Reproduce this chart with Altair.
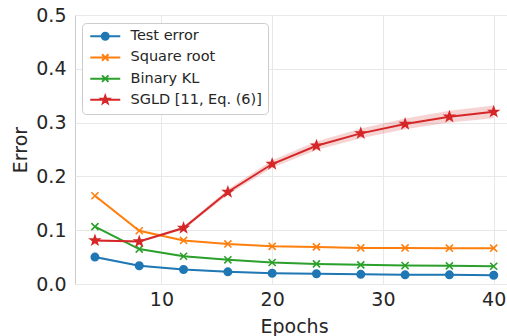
import math
import altair as alt
import pandas as pd

# ---------------- data ----------------
epochs = [4, 8, 12, 16, 20, 24, 28, 32, 36, 40]
series_names = ["Test error", "Square root", "Binary KL", "SGLD [11, Eq. (6)]"]
test_error = [0.050, 0.034, 0.027, 0.0226, 0.020, 0.019, 0.018, 0.017, 0.017, 0.0163]
square_root = [0.164, 0.099, 0.081, 0.0745, 0.070, 0.069, 0.067, 0.067, 0.0665, 0.0665]
binary_kl = [0.1066, 0.065, 0.0516, 0.045, 0.040, 0.0374, 0.0356, 0.0343, 0.0337, 0.033]
sgld = [0.081, 0.079, 0.104, 0.171, 0.223, 0.257, 0.280, 0.2975, 0.311, 0.320]
test_error_sd = [0.002, 0.0015, 0.001, 0.001, 0.001, 0.001, 0.001, 0.001, 0.001, 0.001]
square_root_sd = [0.002, 0.0015, 0.001, 0.001, 0.001, 0.001, 0.001, 0.001, 0.001, 0.001]
binary_kl_sd = [0.002, 0.0015, 0.001, 0.001, 0.001, 0.001, 0.001, 0.001, 0.001, 0.001]
sgld_sd = [0.002, 0.002, 0.003, 0.005, 0.007, 0.008, 0.009, 0.010, 0.011, 0.012]
colors = ["#1f77b4", "#ff7f0e", "#2ca02c", "#d62728"]

values = [test_error, square_root, binary_kl, sgld]
sds = [test_error_sd, square_root_sd, binary_kl_sd, sgld_sd]
rows = []
for name, vals, sd in zip(series_names, values, sds):
    for e, v, s in zip(epochs, vals, sd):
        rows.append({"epoch": e, "err": v, "lo": v - s, "hi": v + s, "series": name})
df = pd.DataFrame(rows)

# ---------------- marker shapes ----------------
def star_path(R, r=0.4):
    pts = []
    for i in range(10):
        ang = -math.pi / 2 + i * math.pi / 5
        rad = R if i % 2 == 0 else R * r
        pts.append(f"{rad*math.cos(ang):.3f},{rad*math.sin(ang):.3f}")
    return "M" + "L".join(pts) + "Z"

def circle_path(r):
    return f"M{r},0A{r},{r} 0 1,1 {-r},0A{r},{r} 0 1,1 {r},0Z"

def x_path(h):
    return f"M{-h},{-h}L{h},{h}M{-h},{h}L{h},{-h}"

marker_shapes = ["circle", x_path(1), x_path(1), star_path(1)]
marker_sizes = [55, 50, 50, 85]
legend_line = "M-3,0L3,0"
legend_shapes = [legend_line + circle_path(0.7), legend_line + x_path(0.65),
                 legend_line + x_path(0.65), legend_line + star_path(0.8)]

color_scale = alt.Scale(domain=series_names, range=colors)

x_enc = alt.X("epoch:Q", scale=alt.Scale(domain=[2.2, 41.2], nice=False, zero=False),
              axis=alt.Axis(values=[10, 20, 30, 40], title="Epochs", labelPadding=6,
                            titlePadding=8, titleX=219))
y_enc = alt.Y("err:Q", scale=alt.Scale(domain=[0, 0.5], nice=False),
              axis=alt.Axis(values=[0, 0.1, 0.2, 0.3, 0.4, 0.5], format=".1f", title="Error",
                            labelPadding=9, titlePadding=5))

base = alt.Chart(df)

band = base.mark_area(opacity=0.2).encode(
    x=x_enc, y=alt.Y("lo:Q"), y2="hi:Q",
    color=alt.Color("series:N", scale=color_scale, legend=None),
    detail="series:N",
)

line = base.mark_line(strokeWidth=2).encode(
    x=x_enc, y=y_enc,
    color=alt.Color("series:N", scale=color_scale, legend=None),
    order=alt.Order("epoch:Q"),
)

point_layers = []
for name, col, shp, sz in zip(series_names, colors, marker_shapes, marker_sizes):
    point_layers.append(
        base.transform_filter(alt.datum.series == name).mark_point(
            filled=True, shape=shp, size=sz, fill=col, stroke=col,
            strokeWidth=1.6, opacity=1,
        ).encode(x=x_enc, y=y_enc)
    )

legend = alt.Legend(
    title=None, orient="none", legendX=7, legendY=8,
    symbolSize=100, symbolStrokeWidth=2, symbolOpacity=1, symbolOffset=10,
    labelFontSize=14.5, labelColor="#262626", labelOffset=18,
    rowPadding=5.2, padding=6, cornerRadius=4,
    strokeColor="#cccccc", fillColor="white", labelFont="DejaVu Sans",
)

legend_layer = base.mark_point(filled=True, opacity=0).encode(
    x=x_enc, y=y_enc,
    fill=alt.Fill("series:N", scale=color_scale, legend=legend),
    stroke=alt.Stroke("series:N", scale=color_scale, legend=legend),
    shape=alt.Shape("series:N", scale=alt.Scale(domain=series_names, range=legend_shapes),
                    legend=legend),
)

chart = alt.layer(band, line, *point_layers, legend_layer).resolve_scale(
    shape="independent", fill="independent", stroke="independent"
).resolve_legend(
    shape="independent", fill="independent", stroke="independent"
).properties(
    width=432, height=269,
    padding={"left": 75, "top": 15, "right": 0, "bottom": 52},
    autosize=alt.AutoSizeParams(type="none"),
).configure(
    font="DejaVu Sans",
).configure_view(
    stroke="#cccccc", strokeWidth=1,
).configure_axis(
    labelFont="DejaVu Sans", titleFont="DejaVu Sans",
    labelFontSize=19, titleFontSize=19, titleFontWeight="normal",
    labelColor="#262626", titleColor="#262626",
    grid=True, gridColor="#e8e8e8", gridWidth=1,
    domain=False, ticks=False,
)

chart.save("out.html", embed_options={"renderer": "svg", "actions": False})
